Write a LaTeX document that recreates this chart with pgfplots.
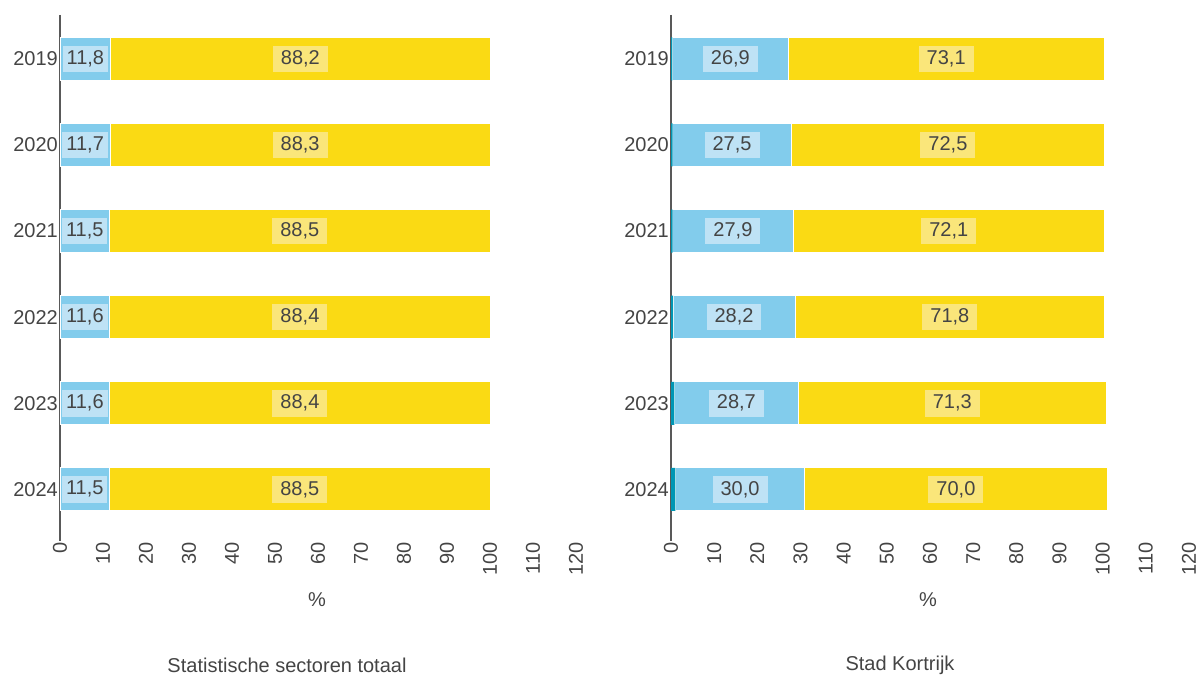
\documentclass[border=0pt]{standalone}
\usepackage{pgfplots}
\pgfplotsset{compat=1.18}
\usepackage{pgfplotstable}
\usepackage{fontspec}
\setmainfont{Liberation Sans}
\definecolor{cblue}{HTML}{82CCEC}
\definecolor{lblue}{HTML}{BEE2F5}
\definecolor{cyel}{HTML}{FADA14}
\definecolor{lyel}{HTML}{FAE67A}
\definecolor{cteal}{HTML}{0096B4}
\definecolor{ctext}{HTML}{444444}
\newcommand\f{\fontsize{20}{24}\selectfont}
\pgfplotstableread{
y teal blue yellow
0 0 11.8 88.2
1 0 11.7 88.3
2 0 11.5 88.5
3 0 11.6 88.4
4 0 11.6 88.4
5 0 11.5 88.5
}\lefttab
\pgfplotstableread{
y teal blue yellow
0 0.3 26.9 73.1
1 0.4 27.5 72.5
2 0.4 27.9 72.1
3 0.5 28.2 71.8
4 0.8 28.7 71.3
5 1.0 30.0 70.0
}\righttab
\pgfplotsset{
  /pgf/number format/assume math mode=true,
  base/.style={
    scale only axis, width=#1, height=526pt,
    xmin=0, xmax=120, ymin=-0.51, ymax=5.6, y dir=reverse,
  },
  main/.style={
    base=#1,
    xbar stacked, bar width=43pt,
    axis lines*=left,
    x axis line style={draw=none},
    y axis line style={draw=black!65, line width=1.3pt},
    major tick length=0pt,
    xtick={0,10,...,120},
    ytick={0,...,5},
    yticklabels={2019,2020,2021,2022,2023,2024},
    tick label style={font=\f, text=ctext},
    xticklabel style={rotate=90, anchor=east, inner sep=1pt},
    yticklabel style={inner sep=2pt},
  },
  lab/.style={
    only marks, mark=none,
    nodes near coords={\pgfmathprintnumber[fixed,fixed zerofill,precision=1,use comma]{\pgfplotspointmeta}},
    every node near coord/.append style={anchor=center, font=\f, text=ctext, fill=#1, inner xsep=8pt, inner ysep=5pt},
  },
}
\begin{document}
\begin{tikzpicture}[x=1pt,y=1pt]
\path (0,0) rectangle (1198,677);
% left panel
\begin{axis}[main=516pt, at={(60pt,136pt)}, anchor=south west]
\addplot[fill=cblue, draw=white, line width=0.8pt] table[x=blue, y=y] {\lefttab};
\addplot[fill=cyel, draw=white, line width=0.8pt] table[x=yellow, y=y] {\lefttab};
\end{axis}
\begin{axis}[base=516pt, at={(60pt,136pt)}, anchor=south west, hide axis]
\addplot[lab=lblue, every node near coord/.append style={inner xsep=4pt}, point meta=\thisrow{blue}] table[x expr=\thisrow{blue}/2, y=y] {\lefttab};
\addplot[lab=lyel, point meta=\thisrow{yellow}] table[x expr=\thisrow{blue}+\thisrow{yellow}/2, y=y] {\lefttab};
\end{axis}
% right panel
\begin{axis}[main=518pt, at={(671pt,136pt)}, anchor=south west]
\addplot[fill=cteal, draw=none] table[x=teal, y=y] {\righttab};
\addplot[fill=cblue, draw=white, line width=0.8pt] table[x=blue, y=y] {\righttab};
\addplot[fill=cyel, draw=white, line width=0.8pt] table[x=yellow, y=y] {\righttab};
\end{axis}
\begin{axis}[base=518pt, at={(671pt,136pt)}, anchor=south west, hide axis]
\addplot[lab=lblue, point meta=\thisrow{blue}] table[x expr=\thisrow{teal}+\thisrow{blue}/2, y=y] {\righttab};
\addplot[lab=lyel, point meta=\thisrow{yellow}] table[x expr=\thisrow{teal}+\thisrow{blue}+\thisrow{yellow}/2, y=y] {\righttab};
\end{axis}
\node[font=\f, text=ctext] at (317,77) {\%};
\node[font=\f, text=ctext] at (928,77) {\%};
\node[font=\f, text=ctext] at (287,12) {Statistische sectoren totaal};
\node[font=\f, text=ctext] at (900,12) {Stad Kortrijk};
\end{tikzpicture}
\end{document}
